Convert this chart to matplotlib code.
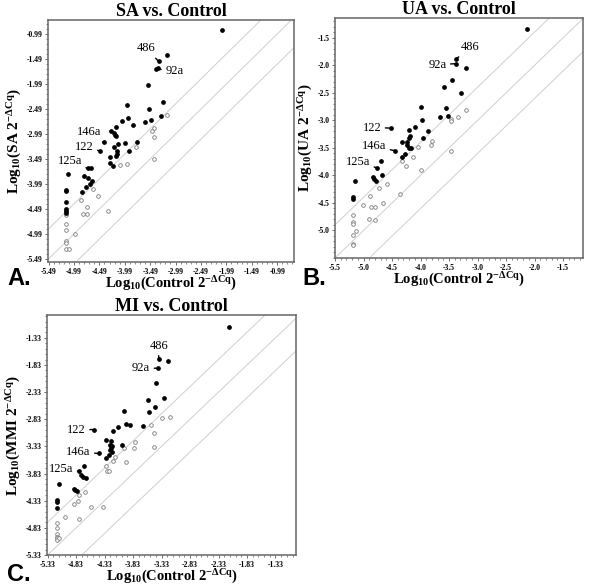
import numpy as np
import matplotlib
matplotlib.use('Agg')
import matplotlib.pyplot as plt
from matplotlib.ticker import AutoMinorLocator

plt.rcParams['font.family'] = 'Liberation Serif'
plt.rcParams['mathtext.fontset'] = 'custom'
plt.rcParams['mathtext.rm'] = 'Liberation Serif:bold'
plt.rcParams['mathtext.it'] = 'Liberation Serif:italic:bold'
plt.rcParams['mathtext.bf'] = 'Liberation Serif:bold'

# SA vs Control (log10 2^-dCq)
sa_fill_x = [-2.07, -3.15, -3.32, -3.37, -3.33, -3.53, -3.24, -3.94, -3.51, -3.93, -4.05, -3.48, -3.28, -3.60,
             -3.82, -4.16, -4.26, -4.20, -4.18, -4.16, -4.40, -4.47, -4.21, -4.13, -3.99, -4.14, -4.14, -4.16,
             -3.90, -3.74, -4.28, -4.28, -4.23, -4.72, -4.65, -4.79, -4.72, -4.63, -4.67, -4.76, -4.84, -5.11,
             -5.14, -5.14, -5.14, -5.14, -5.14, -5.14]
sa_fill_y = [-0.91, -1.42, -1.54, -1.69, -1.67, -2.02, -2.35, -2.42, -2.49, -2.66, -2.73, -2.70, -2.62, -2.76,
             -2.82, -2.86, -2.94, -2.98, -3.01, -3.04, -3.16, -3.33, -3.26, -3.19, -3.18, -3.34, -3.39, -3.43,
             -3.33, -3.15, -3.46, -3.58, -3.64, -3.68, -3.68, -3.84, -3.88, -3.93, -3.99, -4.06, -4.16, -3.79,
             -4.11, -4.14, -4.36, -4.50, -4.54, -4.57]
sa_open_x = [-3.15, -3.41, -3.46, -3.42, -3.77, -3.42, -3.94, -4.09, -4.61, -4.52, -4.85, -4.74, -4.81, -4.74,
             -4.32, -4.97, -5.14, -5.14, -5.14, -5.14, -5.14, -5.14, -5.09]
sa_open_y = [-2.60, -2.88, -2.93, -3.06, -3.24, -3.49, -3.59, -3.62, -4.10, -4.24, -4.32, -4.46, -4.59, -4.59,
             -4.53, -4.98, -4.61, -4.79, -4.91, -5.14, -5.17, -5.28, -5.28]

# UA vs Control
ua_fill_x = [-2.14, -3.38, -3.38, -3.21, -3.44, -3.59, -3.29, -4.00, -3.55, -3.66, -3.52, -3.97, -4.10, -4.21,
             -3.87, -4.52, -4.18, -4.21, -4.23, -3.96, -4.32, -4.24, -4.21, -4.17, -4.45, -4.27, -4.32, -4.70,
             -4.77, -4.68, -4.84, -4.81, -4.78, -5.15, -5.19, -5.19]
ua_fill_y = [-1.34, -1.89, -1.97, -2.04, -2.26, -2.39, -2.51, -2.76, -2.77, -2.94, -2.92, -3.00, -3.12, -3.17,
             -3.19, -3.14, -3.29, -3.32, -3.39, -3.32, -3.40, -3.45, -3.51, -3.51, -3.55, -3.61, -3.66, -3.73,
             -3.86, -4.00, -4.03, -4.07, -4.11, -4.11, -4.39, -4.43]
ua_open_x = [-3.20, -3.34, -3.46, -3.47, -3.79, -3.82, -4.04, -4.14, -4.32, -4.26, -3.46, -4.00, -4.58, -4.72,
             -4.36, -4.88, -4.66, -5.01, -4.87, -4.80, -4.90, -4.79, -5.18, -5.14, -5.19, -5.19, -5.19, -5.19, -5.19]
ua_open_y = [-2.81, -2.93, -2.98, -3.01, -3.37, -3.44, -3.48, -3.67, -3.73, -3.82, -3.55, -3.91, -4.16, -4.22,
             -4.33, -4.37, -4.50, -4.53, -4.57, -4.57, -4.80, -4.81, -4.72, -5.01, -4.84, -4.89, -5.08, -5.24, -5.27]

# MI vs Control
mi_fill_x = [-2.14, -3.38, -3.21, -3.40, -3.42, -3.57, -3.28, -3.45, -3.55, -3.98, -3.96, -3.88, -3.65, -4.09,
             -4.19, -4.52, -4.31, -4.21, -4.23, -4.20, -4.21, -4.23, -4.20, -4.03, -4.25, -4.31, -4.43, -4.69,
             -4.77, -4.75, -4.70, -4.65, -4.87, -4.84, -4.81, -5.13, -5.17, -5.17, -5.17]
mi_fill_y = [-1.14, -1.72, -1.76, -1.89, -2.16, -2.47, -2.43, -2.61, -2.69, -2.67, -2.92, -2.94, -2.96, -2.98,
             -3.04, -3.02, -3.21, -3.23, -3.31, -3.32, -3.36, -3.40, -3.43, -3.30, -3.48, -3.54, -3.46, -3.69,
             -3.79, -3.86, -3.90, -3.92, -4.11, -4.13, -4.15, -4.03, -4.32, -4.36, -4.47]
mi_open_x = [-3.19, -3.33, -3.51, -3.47, -3.46, -3.79, -3.82, -3.98, -3.96, -4.14, -4.18, -4.31, -4.29, -4.26,
             -4.67, -4.77, -4.79, -4.87, -4.56, -4.35, -5.02, -4.78, -5.17, -5.17, -5.17, -5.17, -5.17, -5.17, -5.13]
mi_open_y = [-2.79, -2.81, -2.93, -3.08, -3.34, -3.25, -3.36, -3.36, -3.61, -3.52, -3.60, -3.70, -3.78, -3.78,
             -4.17, -4.22, -4.33, -4.39, -4.44, -4.45, -4.63, -4.66, -4.74, -4.84, -4.95, -4.99, -5.02, -5.05, -5.02]

# labelled miRNAs: index into filled arrays
mir_names = ['486', '92a', '146a', '122', '125a']
sa_mir_idx = [2, 3, 20, 21, 33]
ua_mir_idx = [1, 2, 24, 15, 28]
mi_mir_idx = [1, 3, 26, 15, 28]

sa_ticks = [-5.49, -4.99, -4.49, -3.99, -3.49, -2.99, -2.49, -1.99, -1.49, -0.99]
ua_xticks = [-5.5, -5.0, -4.5, -4.0, -3.5, -3.0, -2.5, -2.0, -1.5]
ua_yticks = [-5.0, -4.5, -4.0, -3.5, -3.0, -2.5, -2.0, -1.5]
mi_ticks = [-5.33, -4.83, -4.33, -3.83, -3.33, -2.83, -2.33, -1.83, -1.33]

fold_lines = [np.log10(4), 0.0, -np.log10(4)]

W, H = 590., 588.
fig = plt.figure(figsize=(5.9, 5.88), dpi=100)


def pxAxes(l, t, r, b):
    return fig.add_axes([l / W, 1 - b / H, (r - l) / W, (b - t) / H])


def drawPanel(ax, fx, fy, ox, oy, idx, offs, title, ylab, xticks, yticks, fmt, xlim, ylim):
    for c in fold_lines:
        ax.axline((0, c), slope=1, color='#cfcfcf', lw=0.7, zorder=1)
    ax.plot(ox, oy, 'o', ms=2.6, mfc='white', mec='#7a7a7a', mew=0.6, ls='none', zorder=2)
    ax.plot(fx, fy, 'o', ms=2.4, color='k', ls='none', zorder=3)
    for name, i, off in zip(mir_names, idx, offs):
        ax.annotate(name, (fx[i], fy[i]), xytext=off, textcoords='offset points',
                    ha='center', va='center', fontsize=9,
                    arrowprops=dict(arrowstyle='-', lw=1.0, color='k', shrinkA=1, shrinkB=0))
    ax.set_xlim(xlim)
    ax.set_ylim(ylim)
    ax.set_xticks(xticks)
    ax.set_yticks(yticks)
    ax.set_xticklabels([fmt % v for v in xticks])
    ax.set_yticklabels([fmt % v for v in yticks])
    ax.xaxis.set_minor_locator(AutoMinorLocator(5))
    ax.yaxis.set_minor_locator(AutoMinorLocator(5))
    ax.tick_params(which='major', length=2.5, width=0.6, color='#555555', pad=1.5, labelsize=5.5)
    ax.tick_params(which='minor', length=1.5, width=0.5, color='#555555')
    for lab in ax.get_xticklabels() + ax.get_yticklabels():
        lab.set_fontweight('bold')
    for s in ax.spines.values():
        s.set_color('#666666')
        s.set_linewidth(1.1)
    ax.set_title(title, fontsize=13, fontweight='bold', pad=3)
    ax.set_xlabel(r'Log$_{10}$(Control 2$^{\mathrm{-ΔCq}}$)', fontsize=10.5, fontweight='bold', labelpad=-0.5)
    ax.set_ylabel(ylab, fontsize=11, fontweight='bold', labelpad=2)


axA = pxAxes(48, 20, 294, 262)
drawPanel(axA, sa_fill_x, sa_fill_y, sa_open_x, sa_open_y, sa_mir_idx,
          [(-9.2, 9.4), (13.0, -1.3), (-10.3, 7.5), (-11.7, 2.7), (-12.9, 5.7)],
          'SA vs. Control', r'Log$_{10}$(SA 2$^{\mathrm{-ΔCq}}$)',
          sa_ticks, sa_ticks, '%.2f', (-5.50, -0.66), (-5.55, -0.71))

axB = pxAxes(335, 18, 583, 258)
drawPanel(axB, ua_fill_x, ua_fill_y, ua_open_x, ua_open_y, ua_mir_idx,
          [(10.4, 8.7), (-13.3, -0.7), (-15.0, 3.0), (-13.7, 0.4), (-13.5, 4.0)],
          'UA vs. Control', r'Log$_{10}$(UA 2$^{\mathrm{-ΔCq}}$)',
          ua_xticks, ua_yticks, '%.1f', (-5.5, -1.15), (-5.5, -1.14))

axC = pxAxes(47, 315, 296, 555)
drawPanel(axC, mi_fill_x, mi_fill_y, mi_open_x, mi_open_y, mi_mir_idx,
          [(0.0, 9.7), (-11.9, 0.0), (-14.8, 1.1), (-12.5, 0.0), (-13.2, 1.6)],
          'MI vs. Control', r'Log$_{10}$(MMI 2$^{\mathrm{-ΔCq}}$)',
          mi_ticks, mi_ticks, '%.2f', (-5.34, -0.97), (-5.26, -0.91))

for letter, x, y in [('A.', 7, 285), ('B.', 302, 285), ('C.', 7, 581)]:
    fig.text(x / W, 1 - y / H, letter, fontsize=17, fontweight='bold', family='Liberation Sans')

fig.savefig('out.png', dpi=100)
